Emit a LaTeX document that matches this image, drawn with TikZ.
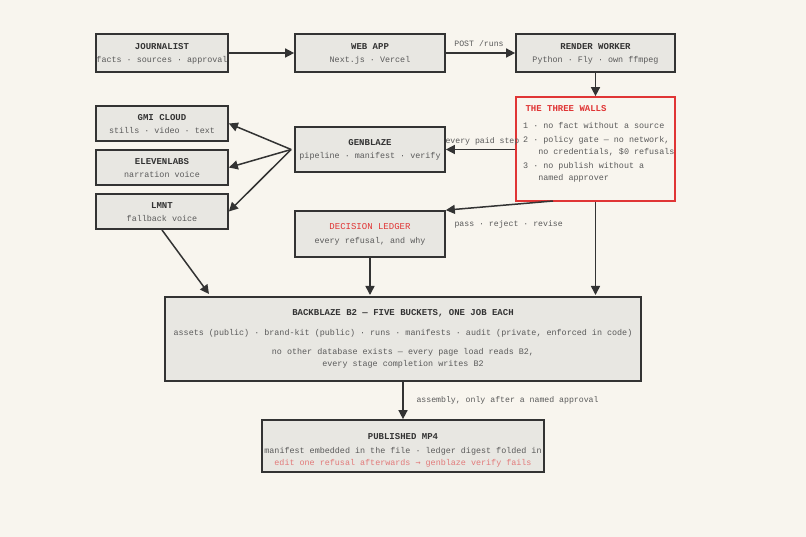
\documentclass[tikz,border=0pt]{standalone}
\usepackage{fontspec}
\setmainfont{Liberation Mono}
\newfontfamily\arrfont{DejaVu Sans Mono}
\usetikzlibrary{arrows.meta}
\definecolor{bg}{HTML}{F8F5EE}
\definecolor{boxf}{HTML}{E8E7E2}
\definecolor{ink}{HTML}{333333}
\definecolor{sub}{HTML}{5A5A5A}
\definecolor{wall}{HTML}{E03535}
\definecolor{pink}{HTML}{E27A7A}
\begin{document}
\begin{tikzpicture}[x=1pt,y=-1pt,
  box/.style={draw=ink,fill=boxf,line width=1.7pt,inner sep=0pt},
  ttl/.style={font=\fontsize{9}{11}\selectfont\bfseries,text=ink},
  st/.style={font=\fontsize{8.4}{12.5}\selectfont,text=sub},
  arr/.style={draw=ink,line width=1.5pt,-{Triangle[length=9pt,width=9pt]}},
  lbl/.style={font=\fontsize{8.2}{10}\selectfont,text=sub}]
\fill[bg] (0,0) rectangle (806,537);
\useasboundingbox (0,0) rectangle (806,537);
% boxes
\node[box,minimum width=132pt,minimum height=38pt] (jo) at (162,53) {};
\node[ttl] at (162,47) {JOURNALIST};
\node[st] at (162,60) {facts · sources · approval};
\node[box,minimum width=150pt,minimum height=38pt] (web) at (370,53) {};
\node[ttl] at (370,47) {WEB APP};
\node[st] at (370,60) {Next.js · Vercel};
\node[box,minimum width=159pt,minimum height=38pt] (rw) at (595.5,53) {};
\node[ttl] at (595.5,47) {RENDER WORKER};
\node[st] at (595.5,60) {Python · Fly · own ffmpeg};
\node[draw=wall,fill=bg,line width=1.7pt,minimum width=159pt,minimum height=104pt,inner sep=0pt] (tw) at (595.5,149) {};
\node[anchor=west,font=\fontsize{9}{11}\selectfont\bfseries,text=wall] at (522,109) {THE THREE WALLS};
\node[anchor=north west,st,align=left,inner sep=0pt] at (523,122) {1 · no fact without a source};
\node[anchor=north west,st,align=left,inner sep=0pt] at (523,136) {2 · policy gate — no network,\\\ \ \ no credentials, \$0 refusals};
\node[anchor=north west,st,align=left,inner sep=0pt] at (523,162) {3 · no publish without a\\\ \ \ named approver};
\node[box,minimum width=132pt,minimum height=35pt] (gmi) at (162,123.5) {};
\node[ttl] at (162,118) {GMI CLOUD};
\node[st] at (162,130.5) {stills · video · text};
\node[box,minimum width=132pt,minimum height=35pt] (el) at (162,167.5) {};
\node[ttl] at (162,162) {ELEVENLABS};
\node[st] at (162,174.5) {narration voice};
\node[box,minimum width=132pt,minimum height=35pt] (lm) at (162,211.5) {};
\node[ttl] at (162,206) {LMNT};
\node[st] at (162,218.5) {fallback voice};
\node[box,minimum width=150pt,minimum height=45pt] (gb) at (370,149.5) {};
\node[ttl] at (370,143) {GENBLAZE};
\node[st] at (370,156.5) {pipeline · manifest · verify};
\node[box,minimum width=150pt,minimum height=46pt] (dl) at (370,234) {};
\node[font=\fontsize{9}{11}\selectfont,text=wall] at (370,227) {DECISION LEDGER};
\node[st] at (370,241.5) {every refusal, and why};
\node[box,minimum width=476pt,minimum height=84pt] (b2) at (403,339) {};
\node[ttl] at (403,313) {BACKBLAZE B2 — FIVE BUCKETS, ONE JOB EACH};
\node[st] at (403,333) {assets (public) · brand-kit (public) · runs · manifests · audit (private, enforced in code)};
\node[st,align=center] at (403,358.5) {no other database exists — every page load reads B2,\\every stage completion writes B2};
\node[box,minimum width=282pt,minimum height=52pt] (pm) at (403,446) {};
\node[ttl] at (403,437) {PUBLISHED MP4};
\node[st] at (403,451) {manifest embedded in the file · ledger digest folded in};
\node[font=\fontsize{8.4}{10}\selectfont,text=pink] at (403,463.5) {edit one refusal afterwards {\arrfont →} genblaze verify fails};
% connectors
\draw[arr] (jo.east) -- (web.west);
\draw[arr] (web.east) -- (rw.west);
\node[lbl] (l1) at (479,44) {POST /runs};
\draw[arr] (rw.south) -- (tw.north);
\draw[arr] (tw.west|-gb.east) -- (gb.east);
\node[lbl,anchor=west] (l2) at (442,141) {every paid step};
\draw[arr] ([xshift=-3pt]gb.west) -- (gmi.east);
\draw[arr] ([xshift=-3pt]gb.west) -- (el.east);
\draw[arr] ([xshift=-3pt]gb.west) -- (lm.east);
\coordinate (lmo) at (162,230);
\draw[arr] (lmo) -- (209,294);
\coordinate (two) at (553,201);
\draw[arr] (two) -- (dl.north east);
\node[lbl,anchor=west] (l3) at (451,224) {pass · reject · revise};
\draw[arr] (dl.south) -- (370,295);
\draw[arr] (tw.south) -- (595.5,295);
\draw[arr] (b2.south) -- (pm.north);
\node[lbl,anchor=west] (l4) at (413,400) {assembly, only after a named approval};
\end{tikzpicture}
\end{document}
